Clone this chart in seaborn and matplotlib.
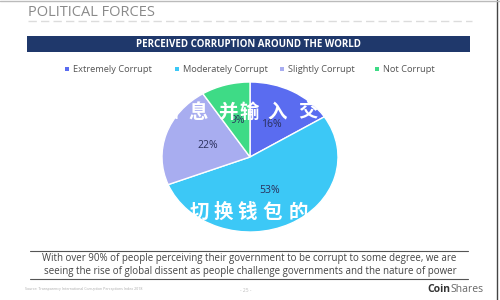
import matplotlib
matplotlib.use("Agg")
import matplotlib.pyplot as plt
import seaborn as sns
from matplotlib.patches import Rectangle
from matplotlib.transforms import Bbox, TransformedBbox
from matplotlib.lines import Line2D

# ---- data ----
categories = ["Extremely Corrupt", "Moderately Corrupt", "Slightly Corrupt", "Not Corrupt"]
shares = [16, 53, 22, 9]
colors = ["#5a6cf0", "#3cc8f6", "#a8adf0", "#3edb86"]
title_text = "PERCEIVED CORRUPTION AROUND THE WORLD"
header_text = "POLITICAL FORCES"
caption_lines = [
    "With over 90% of people perceiving their government to be corrupt to some degree, we are",
    "seeing the rise of global dissent as people challenge governments and the nature of power",
]
overlay_line1 = "信息并输入交"
overlay_line2 = "切换钱包的"

sns.set_theme(style="white")
plt.rcParams["font.family"] = ["Open Sans", "DejaVu Sans"]

W, H = 500, 300
fig = plt.figure(figsize=(5, 3), dpi=100)
fig.patch.set_facecolor("white")

def fx(x):
    return x / W

def fy(y):
    return 1 - y / H

# pie axes (slightly elliptical like the reference)
ax = fig.add_axes([fx(162), fy(232), (338 - 162) / W, (232 - 82) / H])
wedges, texts, autotexts = ax.pie(
    shares, colors=colors, startangle=90, counterclock=False,
    autopct=lambda p: f"{p:.0f}%", pctdistance=0.5,
    wedgeprops=dict(edgecolor="white", linewidth=1.0),
    textprops=dict(color="#2a2f5c", fontsize=7.5),
)
ax.set_aspect("auto")
ax.set_xlim(-1.0, 1.0)
ax.set_ylim(-1.0, 1.0)
ax.axis("off")

# header
fig.text(fx(28), fy(12), header_text, fontsize=10.5, color="#8a8a8a", va="center", ha="left")
fig.add_artist(Line2D([fx(28), fx(472)], [fy(21), fy(21)], color="#dcdcdc", lw=1.0,
                      linestyle=(0, (6, 3)), transform=fig.transFigure))

# banner
fig.add_artist(Rectangle((fx(27), fy(52)), (470 - 27) / W, 16 / H, transform=fig.transFigure,
                         facecolor="#1f386b", edgecolor="none"))
fig.text(fx(248), fy(44), title_text, fontsize=7.0, color="white", fontweight="bold",
         ha="center", va="center")

# legend
leg_marker_x = [67, 177, 282, 377]
for cx, cat, col in zip(leg_marker_x, categories, colors):
    fig.add_artist(Rectangle((fx(cx - 2), fy(71)), 4 / W, 4 / H, transform=fig.transFigure,
                             facecolor=col, edgecolor="none"))
    fig.text(fx(cx + 6), fy(69), cat, fontsize=6.7, color="#555555", ha="left", va="center")

# overlay watermark text
clip = TransformedBbox(Bbox([[fx(171), 0], [1, 1]]), fig.transFigure)
x1 = [169, 198, 228, 249, 277, 308]
for ch, xx in zip(overlay_line1, x1):
    t = fig.text(fx(xx), fy(112), ch, fontsize=14, color="white", fontweight="heavy",
                 ha="center", va="center", family=["Noto Sans CJK SC"])
    t.set_clip_box(clip)
    t.set_clip_on(True)
x2 = [199, 223, 247, 272, 298]
for ch, xx in zip(overlay_line2, x2):
    fig.text(fx(xx), fy(212), ch, fontsize=14, color="white", fontweight="heavy",
             ha="center", va="center", family=["Noto Sans CJK SC"])

# caption
fig.add_artist(Line2D([fx(30), fx(468)], [fy(251), fy(251)], color="#555555", lw=0.8,
                      transform=fig.transFigure))
fig.add_artist(Line2D([fx(30), fx(468)], [fy(279), fy(279)], color="#555555", lw=0.8,
                      transform=fig.transFigure))
fig.text(fx(249), fy(259), caption_lines[0], fontsize=7.0, color="#444444", ha="center", va="center")
fig.text(fx(250), fy(271.5), caption_lines[1], fontsize=7.0, color="#444444", ha="center", va="center")

# footer
fig.text(fx(25), fy(289), "Source: Transparency International Corruption Perceptions Index 2018",
         fontsize=2.6, color="#aaaaaa", ha="left", va="center")
fig.text(fx(246), fy(290), "- 25 -", fontsize=3.5, color="#bbbbbb", ha="center", va="center")
fig.text(fx(450), fy(290), "Coin", fontsize=7.5, color="#333333", fontweight="bold", ha="right", va="center")
fig.text(fx(450), fy(290), "Shares", fontsize=7.5, color="#666666", ha="left", va="center")

# frame edges
fig.add_artist(Line2D([fx(497), fx(497)], [0, 1], color="#444444", lw=1.0, transform=fig.transFigure))
fig.add_artist(Line2D([0, 1], [fy(0.5), fy(0.5)], color="#bbbbbb", lw=1.0, transform=fig.transFigure))

fig.savefig("out.png", dpi=100, facecolor="white")
